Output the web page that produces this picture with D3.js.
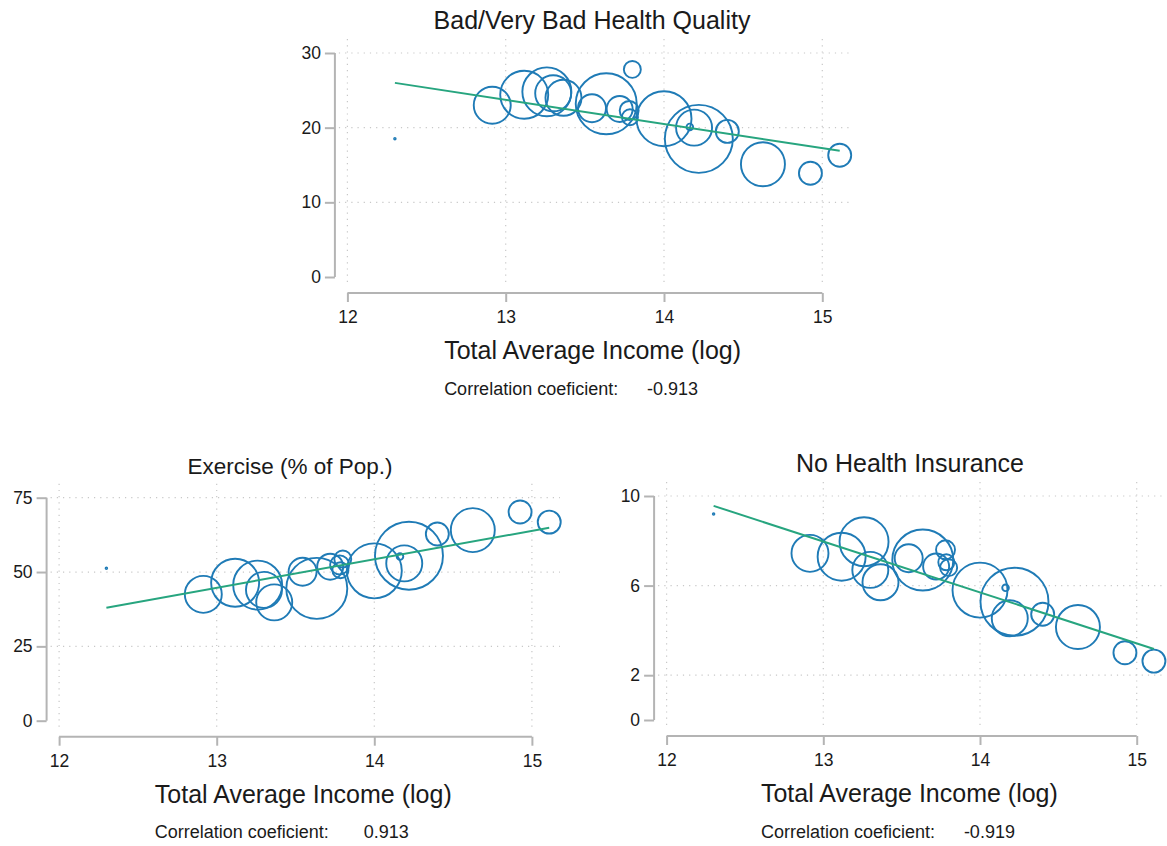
<!DOCTYPE html>
<html>
<head>
<meta charset="utf-8">
<script src="https://cdn.jsdelivr.net/npm/d3@7"></script>
<style>
  body { margin: 0; background: #fff; }
  text { font-family: "Liberation Sans", Arial, sans-serif; fill: #1a1a1a; }
</style>
</head>
<body>
<div id="chart"></div>
<script>
// one entry per region, same order in every array
var income = [12.30, 12.915, 13.117, 13.26, 13.30, 13.365, 13.545, 13.635, 13.72, 13.78,
              13.785, 13.80, 14.0, 14.163, 14.19, 14.22, 14.40, 14.625, 14.925, 15.11];
var weight = [1, 342, 576, 600, 324, 324, 196, 930, 169, 90,
              64, 72, 756, 11, 324, 1156, 132, 484, 132, 132];
var badHealth = [18.5, 23.0, 24.4, 24.8, 24.6, 24.0, 22.6, 23.2, 22.5, 22.3,
                 21.4, 27.8, 21.2, 20.1, 20.0, 18.5, 19.5, 15.1, 13.9, 16.3];
var exercise = [51.3, 42.5, 46.4, 45.6, 44.0, 39.8, 50.1, 44.5, 51.8, 52.4,
                50.6, 54.4, 50.4, 55.2, 52.9, 55.5, 62.8, 64.1, 70.2, 66.8];
var noInsurance = [9.2, 7.44, 7.29, 7.96, 6.70, 6.15, 7.22, 7.14, 6.85, 7.6,
                   7.04, 6.8, 5.8, 5.9, 4.54, 5.28, 4.72, 4.15, 3.0, 2.63];

// fitted line, value at lowest and highest income
var fitX = [12.30, 15.11];
var fitBadHealth = [26.0, 16.9];
var fitExercise = [38.0, 64.9];
var fitInsurance = [9.56, 3.17];

var xTicks = [12, 13, 14, 15];
var titles = ["Bad/Very Bad Health Quality", "Exercise (% of Pop.)", "No Health Insurance"];
var yTicks = [[0, 10, 20, 30], [0, 25, 50, 75], [0, 2, 6, 10]];
var corr = ["-0.913", "0.913", "-0.919"];

var width = 1167, height = 846;
var blue = "#1f7bb6", green = "#27a57f", axisCol = "#b4b4b4", gridCol = "#c8c8c8";
var font = "'Liberation Sans', Arial, sans-serif";

var svg = d3.select("#chart").append("svg")
    .attr("width", width)
    .attr("height", height);

var rScale = d3.scaleSqrt().domain([0, d3.max(weight)]).range([0, 34]);

// layout of each panel (pixel frame)
var panels = [
  { values: badHealth, fit: fitBadHealth, yTicks: yTicks[0], title: titles[0], corr: corr[0],
    xr: [347.4, 822.3], yr: [277, 53], titleX: 592, titleSize: 25 },
  { values: exercise, fit: fitExercise, yTicks: yTicks[1], title: titles[1], corr: corr[1],
    xr: [59.1, 531.9], yr: [720.7, 497.7], titleX: 290, titleSize: 22.5 },
  { values: noInsurance, fit: fitInsurance, yTicks: yTicks[2], title: titles[2], corr: corr[2],
    xr: [666.6, 1136.7], yr: [720, 496], titleX: 910, titleSize: 25 }
];

panels.forEach(function(p) {
  var x = d3.scaleLinear().domain([12, 15]).range(p.xr);
  var y = d3.scaleLinear().domain([0, d3.max(p.yTicks)]).range(p.yr);
  var g = svg.append("g");

  var axisX = x(12) - 12.5;
  var axisY = y(0) + 16;
  var right = Math.min(x(15) + 28, width);
  var top = y(d3.max(p.yTicks));

  // grid
  g.selectAll("line.vgrid").data(xTicks).enter().append("line")
      .attr("x1", function(d) { return x(d); })
      .attr("x2", function(d) { return x(d); })
      .attr("y1", top - 14).attr("y2", y(0) + 9)
      .attr("stroke", gridCol).attr("stroke-width", 1.2)
      .attr("stroke-dasharray", "1.2,5");
  g.selectAll("line.hgrid").data(p.yTicks.filter(function(d) { return d > 0; })).enter().append("line")
      .attr("x1", axisX + 4).attr("x2", right)
      .attr("y1", function(d) { return y(d); })
      .attr("y2", function(d) { return y(d); })
      .attr("stroke", gridCol).attr("stroke-width", 1.2)
      .attr("stroke-dasharray", "1.2,5");

  // y axis
  var yAxis = d3.axisLeft(y).tickValues(p.yTicks).tickSize(10).tickPadding(4);
  var ya = g.append("g").attr("transform", "translate(" + axisX + ",0)").call(yAxis);
  ya.select(".domain").attr("d", "M0," + y(0) + "V" + top).attr("stroke", axisCol).attr("stroke-width", 2);
  ya.selectAll(".tick line").attr("stroke", axisCol).attr("stroke-width", 2);
  ya.selectAll(".tick text").style("font-size", "17.5px").attr("fill", "#1a1a1a")
      .style("font-family", font);

  // x axis
  var xAxis = d3.axisBottom(x).tickValues(xTicks).tickFormat(d3.format("d"))
      .tickSize(9).tickPadding(9);
  var xa = g.append("g").attr("transform", "translate(0," + axisY + ")").call(xAxis);
  xa.select(".domain").attr("d", "M" + x(12) + ",0H" + x(15)).attr("stroke", axisCol).attr("stroke-width", 2);
  xa.selectAll(".tick line").attr("stroke", axisCol).attr("stroke-width", 2);
  xa.selectAll(".tick text").style("font-size", "17.5px").attr("fill", "#1a1a1a")
      .style("font-family", font);

  // bubbles
  var pts = income.map(function(v, i) { return { x: v, y: p.values[i], w: weight[i] }; });
  pts.sort(function(a, b) { return b.w - a.w; });
  g.selectAll("circle").data(pts).enter().append("circle")
      .attr("cx", function(d) { return x(d.x); })
      .attr("cy", function(d) { return y(d.y); })
      .attr("r", function(d) { return Math.max(rScale(d.w), 0.8); })
      .attr("fill", "none")
      .attr("stroke", blue)
      .attr("stroke-width", function(d) { return d.w < 5 ? 1.5 : 1.9; });

  // fitted line
  var line = d3.line().x(function(d) { return x(d[0]); }).y(function(d) { return y(d[1]); });
  g.append("path")
      .datum([[fitX[0], p.fit[0]], [fitX[1], p.fit[1]]])
      .attr("d", line)
      .attr("fill", "none")
      .attr("stroke", green)
      .attr("stroke-width", 2);

  // titles
  g.append("text")
      .attr("x", p.titleX).attr("y", top - 24)
      .attr("text-anchor", "middle")
      .style("font-size", p.titleSize + "px")
      .text(p.title);

  var xt = g.append("text")
      .attr("x", (axisX + x(15) + 28) / 2).attr("y", axisY + 66)
      .attr("text-anchor", "middle")
      .style("font-size", "25px")
      .text("Total Average Income (log)");
  var left = xt.node().getBBox().x;

  g.append("text")
      .attr("x", left).attr("y", axisY + 101.5)
      .style("font-size", "18px")
      .text("Correlation coeficient:");
  g.append("text")
      .attr("x", left + 254).attr("y", axisY + 101.5)
      .attr("text-anchor", "end")
      .style("font-size", "18px")
      .text(p.corr);
});
</script>
</body>
</html>
